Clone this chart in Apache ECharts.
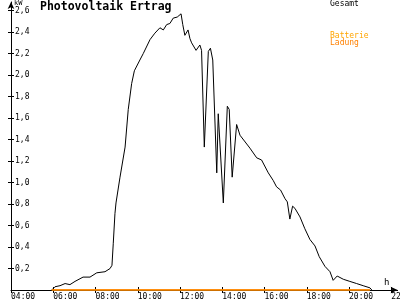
<!DOCTYPE html>
<html><head><meta charset="utf-8">
<script src="https://cdn.jsdelivr.net/npm/echarts@6/dist/echarts.min.js"></script>
<style>html,body{margin:0;padding:0;background:#fff}#c{width:400px;height:300px}</style>
</head><body><div id="c"></div>
<script>
// Hours of day (decimal) and power in kW for "Gesamt"
const gesamtHours = [5.93,6.08,6.32,6.56,6.79,7.03,7.41,7.74,8.06,8.45,8.69,8.78,8.84,8.92,8.97,9.16,9.40,9.55,9.71,9.84,10.10,10.26,10.58,10.81,11.05,11.21,11.37,11.52,11.68,11.87,12.05,12.13,12.23,12.38,12.47,12.55,12.76,12.94,13.02,13.15,13.34,13.44,13.55,13.74,13.81,13.87,14.05,14.24,14.33,14.47,14.68,14.84,15.31,15.63,15.86,16.18,16.41,16.57,16.76,16.97,17.08,17.20,17.33,17.44,17.68,17.91,18.15,18.39,18.59,18.86,19.10,19.25,19.44,19.73,20.04,20.36,20.67,20.99,21.08];
const gesamtKW = [0,0.03,0.04,0.06,0.05,0.08,0.12,0.12,0.16,0.17,0.20,0.23,0.43,0.71,0.81,1.05,1.33,1.68,1.92,2.04,2.14,2.20,2.33,2.39,2.44,2.42,2.47,2.48,2.53,2.54,2.57,2.47,2.37,2.42,2.34,2.30,2.23,2.28,2.23,1.33,2.22,2.25,2.14,1.09,1.64,1.63,0.81,1.71,1.68,1.05,1.54,1.44,1.32,1.23,1.21,1.09,1.02,0.96,0.93,0.85,0.82,0.66,0.78,0.76,0.68,0.57,0.47,0.41,0.31,0.22,0.17,0.09,0.13,0.10,0.08,0.06,0.04,0.02,0];
// Battery series
const batterieHours = [5.93, 20.99];
const batterieKW = [0, 0];
const ladungHours = [5.93, 20.99];
const ladungKW = [0, 0];
// Tick values
const xTicks = [4,6,8,10,12,14,16,18,20,22];
const yTicks = [0.2,0.4,0.6,0.8,1.0,1.2,1.4,1.6,1.8,2.0,2.2,2.4,2.6];

const zip = (a,b) => a.map((v,i)=>[v,b[i]]);
const FONT = 'DejaVu Sans Mono';
const chart = echarts.init(document.getElementById('c'), null, {renderer:'canvas'});
chart.setOption({
  animation:false,
  backgroundColor:'#fff',
  grid:{left:11, right:2.4, top:2, bottom:10, containLabel:false, outerBoundsMode:'none'},
  xAxis:[{
    type:'value', min:4, max:22.3,
    axisLine:{lineStyle:{color:'#000',width:1}, symbol:['none','arrow'], symbolSize:[5,7]},
    axisTick:{customValues:xTicks, length:3, lineStyle:{color:'#000'}},
    axisLabel:{customValues:xTicks, align:'left', margin:3, color:'#000', fontFamily:FONT, fontSize:8, hideOverlap:false,
      formatter:v=>(v<10?'0':'')+v+':00'},
    splitLine:{show:false}
  },{
    type:'value', min:4, max:22.3, position:'bottom',
    axisLine:{show:false},
    axisTick:{customValues:xTicks, inside:true, length:3, lineStyle:{color:'#000'}},
    axisLabel:{show:false}, splitLine:{show:false}
  }],
  yAxis:[{
    type:'value', min:0, max:2.68,
    axisLine:{lineStyle:{color:'#000',width:1}, symbol:['none','arrow'], symbolSize:[5,7]},
    axisTick:{customValues:yTicks, length:3, lineStyle:{color:'#000'}},
    axisLabel:{customValues:yTicks, inside:true, margin:4, color:'#000', fontFamily:FONT, fontSize:8,
      formatter:v=>v.toFixed(1).replace('.',',')},
    splitLine:{show:false}
  },{
    type:'value', min:0, max:2.68, position:'left',
    axisLine:{show:false},
    axisTick:{customValues:yTicks, inside:true, length:3, lineStyle:{color:'#000'}},
    axisLabel:{show:false}, splitLine:{show:false}
  }],
  series:[
    {name:'Gesamt', type:'line', data:zip(gesamtHours,gesamtKW), showSymbol:false, lineStyle:{color:'#000',width:1}, z:3},
    {name:'Batterie', type:'line', data:zip(batterieHours,batterieKW), showSymbol:false, lineStyle:{color:'#FFA500',width:1.5}, z:4},
    {name:'Ladung', type:'line', data:zip(ladungHours,ladungKW), showSymbol:false, lineStyle:{color:'#FF8000',width:1.5}, z:5}
  ],
  graphic:[
    {type:'text', left:40, top:1, style:{text:'Photovoltaik Ertrag', font:'bold 11.5px "DejaVu Sans Mono"', fill:'#000'}},
    {type:'text', left:14, top:0, style:{text:'kW', font:'7px "DejaVu Sans Mono"', fill:'#000'}},
    {type:'text', left:384, top:278, style:{text:'h', font:'9px "DejaVu Sans Mono"', fill:'#000'}},
    {type:'text', left:330, top:0, style:{text:'Gesamt', font:'8px "DejaVu Sans Mono"', fill:'#000'}},
    {type:'text', left:330, top:32, style:{text:'Batterie', font:'8px "DejaVu Sans Mono"', fill:'#FFA500'}},
    {type:'text', left:330, top:39, style:{text:'Ladung', font:'8px "DejaVu Sans Mono"', fill:'#FF8000'}}
  ]
});
</script></body></html>
